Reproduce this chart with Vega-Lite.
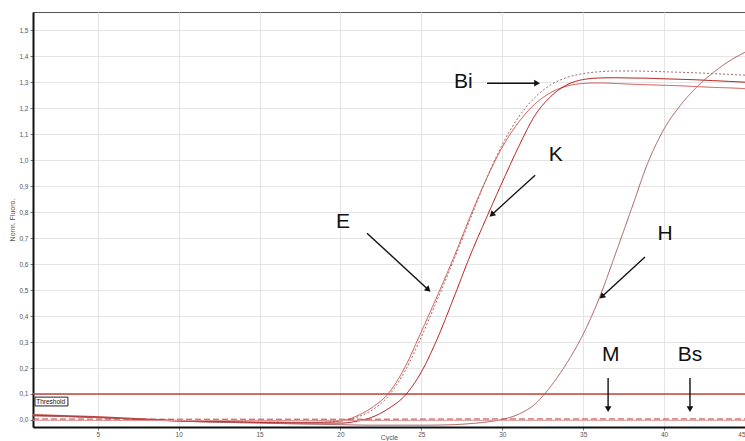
{
  "$schema": "https://vega.github.io/schema/vega-lite/v6.json",
  "width": 712,
  "height": 415,
  "autosize": "none",
  "padding": {"left": 33, "top": 12, "right": 0, "bottom": 14},
  "background": "white",
  "config": {
    "view": {"stroke": "#555", "strokeWidth": 1},
    "font": "Liberation Sans",
    "axis": {
      "gridColor": "#e4e4e4",
      "gridWidth": 1,
      "domainColor": "#111",
      "domainWidth": 2,
      "tickColor": "#777",
      "tickSize": 3,
      "labelFontSize": 6.5,
      "labelColor": "#555",
      "labelOverlap": false,
      "titleFontSize": 7,
      "titleFontWeight": "normal",
      "titleColor": "#555"
    }
  },
  "datasets": {
    "curves": [
      {"s": "E", "c": 1, "v": 0.021}, {"s": "E", "c": 2, "v": 0.019}, {"s": "E", "c": 3, "v": 0.017}, {"s": "E", "c": 4, "v": 0.015}, {"s": "E", "c": 5, "v": 0.013},
      {"s": "E", "c": 6, "v": 0.01}, {"s": "E", "c": 7, "v": 0.007}, {"s": "E", "c": 8, "v": 0.004}, {"s": "E", "c": 9, "v": 0.001}, {"s": "E", "c": 10, "v": -0.002},
      {"s": "E", "c": 11, "v": -0.004}, {"s": "E", "c": 12, "v": -0.005}, {"s": "E", "c": 13, "v": -0.006}, {"s": "E", "c": 14, "v": -0.007}, {"s": "E", "c": 15, "v": -0.008},
      {"s": "E", "c": 16, "v": -0.008}, {"s": "E", "c": 17, "v": -0.009}, {"s": "E", "c": 18, "v": -0.009}, {"s": "E", "c": 19, "v": -0.008}, {"s": "E", "c": 20, "v": -0.004},
      {"s": "E", "c": 21, "v": 0.015}, {"s": "E", "c": 22, "v": 0.05}, {"s": "E", "c": 23, "v": 0.105}, {"s": "E", "c": 24, "v": 0.205}, {"s": "E", "c": 25, "v": 0.34},
      {"s": "E", "c": 26, "v": 0.48}, {"s": "E", "c": 27, "v": 0.625}, {"s": "E", "c": 28, "v": 0.78}, {"s": "E", "c": 29, "v": 0.925}, {"s": "E", "c": 30, "v": 1.05},
      {"s": "E", "c": 31, "v": 1.145}, {"s": "E", "c": 32, "v": 1.215}, {"s": "E", "c": 33, "v": 1.26}, {"s": "E", "c": 34, "v": 1.285}, {"s": "E", "c": 35, "v": 1.295},
      {"s": "E", "c": 36, "v": 1.297}, {"s": "E", "c": 37, "v": 1.295}, {"s": "E", "c": 38, "v": 1.292}, {"s": "E", "c": 39, "v": 1.29}, {"s": "E", "c": 40, "v": 1.288},
      {"s": "E", "c": 41, "v": 1.286}, {"s": "E", "c": 42, "v": 1.283}, {"s": "E", "c": 43, "v": 1.28}, {"s": "E", "c": 44, "v": 1.278}, {"s": "E", "c": 45, "v": 1.275},

      {"s": "Bi", "c": 1, "v": 0.018}, {"s": "Bi", "c": 2, "v": 0.017}, {"s": "Bi", "c": 3, "v": 0.015}, {"s": "Bi", "c": 4, "v": 0.013}, {"s": "Bi", "c": 5, "v": 0.011},
      {"s": "Bi", "c": 6, "v": 0.008}, {"s": "Bi", "c": 7, "v": 0.005}, {"s": "Bi", "c": 8, "v": 0.002}, {"s": "Bi", "c": 9, "v": 0.0}, {"s": "Bi", "c": 10, "v": -0.003},
      {"s": "Bi", "c": 11, "v": -0.005}, {"s": "Bi", "c": 12, "v": -0.006}, {"s": "Bi", "c": 13, "v": -0.007}, {"s": "Bi", "c": 14, "v": -0.008}, {"s": "Bi", "c": 15, "v": -0.009},
      {"s": "Bi", "c": 16, "v": -0.009}, {"s": "Bi", "c": 17, "v": -0.01}, {"s": "Bi", "c": 18, "v": -0.01}, {"s": "Bi", "c": 19, "v": -0.009}, {"s": "Bi", "c": 20, "v": -0.005},
      {"s": "Bi", "c": 21, "v": 0.01}, {"s": "Bi", "c": 22, "v": 0.04}, {"s": "Bi", "c": 23, "v": 0.095}, {"s": "Bi", "c": 24, "v": 0.19}, {"s": "Bi", "c": 25, "v": 0.32},
      {"s": "Bi", "c": 26, "v": 0.465}, {"s": "Bi", "c": 27, "v": 0.615}, {"s": "Bi", "c": 28, "v": 0.77}, {"s": "Bi", "c": 29, "v": 0.925}, {"s": "Bi", "c": 30, "v": 1.06},
      {"s": "Bi", "c": 31, "v": 1.165}, {"s": "Bi", "c": 32, "v": 1.24}, {"s": "Bi", "c": 33, "v": 1.29}, {"s": "Bi", "c": 34, "v": 1.318}, {"s": "Bi", "c": 35, "v": 1.333},
      {"s": "Bi", "c": 36, "v": 1.34}, {"s": "Bi", "c": 37, "v": 1.343}, {"s": "Bi", "c": 38, "v": 1.343}, {"s": "Bi", "c": 39, "v": 1.342}, {"s": "Bi", "c": 40, "v": 1.34},
      {"s": "Bi", "c": 41, "v": 1.338}, {"s": "Bi", "c": 42, "v": 1.336}, {"s": "Bi", "c": 43, "v": 1.333}, {"s": "Bi", "c": 44, "v": 1.33}, {"s": "Bi", "c": 45, "v": 1.327},

      {"s": "K", "c": 1, "v": 0.017}, {"s": "K", "c": 2, "v": 0.016}, {"s": "K", "c": 3, "v": 0.014}, {"s": "K", "c": 4, "v": 0.012}, {"s": "K", "c": 5, "v": 0.01},
      {"s": "K", "c": 6, "v": 0.007}, {"s": "K", "c": 7, "v": 0.004}, {"s": "K", "c": 8, "v": 0.001}, {"s": "K", "c": 9, "v": -0.002}, {"s": "K", "c": 10, "v": -0.004},
      {"s": "K", "c": 11, "v": -0.006}, {"s": "K", "c": 12, "v": -0.007}, {"s": "K", "c": 13, "v": -0.008}, {"s": "K", "c": 14, "v": -0.009}, {"s": "K", "c": 15, "v": -0.01},
      {"s": "K", "c": 16, "v": -0.011}, {"s": "K", "c": 17, "v": -0.012}, {"s": "K", "c": 18, "v": -0.012}, {"s": "K", "c": 19, "v": -0.012}, {"s": "K", "c": 20, "v": -0.012},
      {"s": "K", "c": 21, "v": -0.005}, {"s": "K", "c": 22, "v": 0.012}, {"s": "K", "c": 23, "v": 0.045}, {"s": "K", "c": 24, "v": 0.095}, {"s": "K", "c": 25, "v": 0.185},
      {"s": "K", "c": 26, "v": 0.315}, {"s": "K", "c": 27, "v": 0.47}, {"s": "K", "c": 28, "v": 0.63}, {"s": "K", "c": 29, "v": 0.775}, {"s": "K", "c": 30, "v": 0.915},
      {"s": "K", "c": 31, "v": 1.05}, {"s": "K", "c": 32, "v": 1.17}, {"s": "K", "c": 33, "v": 1.245}, {"s": "K", "c": 34, "v": 1.29}, {"s": "K", "c": 35, "v": 1.31},
      {"s": "K", "c": 36, "v": 1.316}, {"s": "K", "c": 37, "v": 1.317}, {"s": "K", "c": 38, "v": 1.316}, {"s": "K", "c": 39, "v": 1.315}, {"s": "K", "c": 40, "v": 1.313},
      {"s": "K", "c": 41, "v": 1.311}, {"s": "K", "c": 42, "v": 1.309}, {"s": "K", "c": 43, "v": 1.306}, {"s": "K", "c": 44, "v": 1.303}, {"s": "K", "c": 45, "v": 1.3},

      {"s": "H", "c": 1, "v": 0.016}, {"s": "H", "c": 3, "v": 0.013}, {"s": "H", "c": 5, "v": 0.009}, {"s": "H", "c": 8, "v": 0.002}, {"s": "H", "c": 10, "v": -0.004},
      {"s": "H", "c": 12, "v": -0.008}, {"s": "H", "c": 15, "v": -0.012}, {"s": "H", "c": 18, "v": -0.016}, {"s": "H", "c": 20, "v": -0.018}, {"s": "H", "c": 22, "v": -0.02},
      {"s": "H", "c": 25, "v": -0.02}, {"s": "H", "c": 27, "v": -0.018}, {"s": "H", "c": 28, "v": -0.014}, {"s": "H", "c": 29, "v": -0.008}, {"s": "H", "c": 30, "v": 0.002},
      {"s": "H", "c": 31, "v": 0.022}, {"s": "H", "c": 32, "v": 0.06}, {"s": "H", "c": 33, "v": 0.13}, {"s": "H", "c": 34, "v": 0.22}, {"s": "H", "c": 35, "v": 0.33},
      {"s": "H", "c": 36, "v": 0.47}, {"s": "H", "c": 37, "v": 0.64}, {"s": "H", "c": 38, "v": 0.815}, {"s": "H", "c": 39, "v": 0.99}, {"s": "H", "c": 40, "v": 1.12},
      {"s": "H", "c": 41, "v": 1.21}, {"s": "H", "c": 42, "v": 1.28}, {"s": "H", "c": 43, "v": 1.335}, {"s": "H", "c": 44, "v": 1.38}, {"s": "H", "c": 45, "v": 1.415},

      {"s": "Bs", "c": 1, "v": -0.001}, {"s": "Bs", "c": 10, "v": -0.002}, {"s": "Bs", "c": 20, "v": -0.002}, {"s": "Bs", "c": 30, "v": -0.001}, {"s": "Bs", "c": 40, "v": -0.001}, {"s": "Bs", "c": 45, "v": -0.001},
      {"s": "M", "c": 1, "v": 0.004}, {"s": "M", "c": 10, "v": 0.003}, {"s": "M", "c": 20, "v": 0.003}, {"s": "M", "c": 30, "v": 0.004}, {"s": "M", "c": 40, "v": 0.004}, {"s": "M", "c": 45, "v": 0.004}
    ],
    "arrows": [
      {"label": "Bi", "x1": 29.06, "y1": 1.296, "x2": 32.2, "y2": 1.296, "hx": 32.15, "hy": 1.296, "tx": 27.6, "ty": 1.3},
      {"label": "K", "x1": 32.03, "y1": 0.942, "x2": 29.35, "y2": 0.79, "hx": 29.35, "hy": 0.79, "tx": 33.3, "ty": 1.02},
      {"label": "E", "x1": 21.64, "y1": 0.719, "x2": 25.43, "y2": 0.5015, "hx": 25.43, "hy": 0.5015, "tx": 20.16, "ty": 0.76},
      {"label": "H", "x1": 38.82, "y1": 0.627, "x2": 36.15, "y2": 0.4746, "hx": 36.15, "hy": 0.4746, "tx": 40.06, "ty": 0.715},
      {"label": "M", "x1": 36.54, "y1": 0.162, "x2": 36.54, "y2": 0.042, "hx": 36.54, "hy": 0.042, "tx": 36.7, "ty": 0.25},
      {"label": "Bs", "x1": 41.6, "y1": 0.162, "x2": 41.6, "y2": 0.042, "hx": 41.6, "hy": 0.042, "tx": 41.6, "ty": 0.25}
    ],
    "threshold": [
      {"v": 0.1, "label": "Threshold", "bx1": 1.12, "bx2": 3.16, "by1": 0.054, "by2": 0.088, "lx": 1.2, "ly": 0.071}
    ]
  },
  "layer": [
    {
      "data": {"name": "threshold"},
      "mark": {"type": "rule", "color": "#c8403c", "strokeWidth": 1.3},
      "encoding": {
        "y": {"field": "v", "type": "quantitative", "scale": {"domain": [-0.027, 1.57], "nice": false, "zero": false},
              "axis": {"values": [0, 0.1, 0.2, 0.3, 0.4, 0.5, 0.6, 0.7, 0.8, 0.9, 1.0, 1.1, 1.2, 1.3, 1.4, 1.5],
                       "tickCount": 20,
                       "labelExpr": "replace(format(datum.value, '.1f'), '.', ',')",
                       "labelOverlap": false,
                       "title": "Norm. Fluoro.", "titlePadding": 3, "labelPadding": 2}}
      }
    },
    {
      "data": {"name": "curves"},
      "mark": {"type": "line", "interpolate": "monotone", "clip": true},
      "encoding": {
        "x": {"field": "c", "type": "quantitative", "scale": {"domain": [1, 45], "nice": false, "zero": false},
              "axis": {"values": [5, 10, 15, 20, 25, 30, 35, 40, 45], "tickCount": 20, "title": "Cycle",
                       "titleY": 12, "titleBaseline": "alphabetic", "labelPadding": 1, "labelOverlap": false}},
        "y": {"field": "v", "type": "quantitative",
              "axis": {"values": [0, 0.1, 0.2, 0.3, 0.4, 0.5, 0.6, 0.7, 0.8, 0.9, 1.0, 1.1, 1.2, 1.3, 1.4, 1.5],
                       "tickCount": 20,
                       "labelExpr": "replace(format(datum.value, '.1f'), '.', ',')",
                       "labelOverlap": false,
                       "title": "Norm. Fluoro.", "titlePadding": 3, "labelPadding": 2}},
        "detail": {"field": "s"},
        "color": {"field": "s", "type": "nominal", "legend": null,
                  "scale": {"domain": ["H", "Bs", "M", "E", "Bi", "K"], "range": ["#a85a5a", "#e09090", "#b84444", "#d24a46", "#9a6a6a", "#b00c0c"]}},
        "strokeDash": {"field": "s", "type": "nominal", "legend": null,
                  "scale": {"domain": ["H", "Bs", "M", "E", "Bi", "K"], "range": [[1, 0], [1, 0], [6, 3], [1, 0], [2, 2], [1, 0]]}},
        "strokeWidth": {"field": "s", "type": "nominal", "legend": null,
                  "scale": {"domain": ["H", "Bs", "M", "E", "Bi", "K"], "range": [1, 1, 1.6, 1.1, 1, 2]}},
        "order": {"field": "c", "type": "quantitative"}
      }
    },
    {
      "data": {"name": "threshold"},
      "mark": {"type": "rect", "fill": "white", "stroke": "#222", "strokeWidth": 1},
      "encoding": {
        "x": {"field": "bx1", "type": "quantitative"},
        "x2": {"field": "bx2"},
        "y": {"field": "by1", "type": "quantitative"},
        "y2": {"field": "by2"}
      }
    },
    {
      "data": {"name": "threshold"},
      "mark": {"type": "text", "align": "left", "baseline": "middle", "fontSize": 6.5, "color": "#111"},
      "encoding": {
        "x": {"field": "lx", "type": "quantitative"},
        "y": {"field": "ly", "type": "quantitative"},
        "text": {"field": "label"}
      }
    },
    {
      "data": {"name": "arrows"},
      "mark": {"type": "rule", "color": "#111", "strokeWidth": 1.4},
      "encoding": {
        "x": {"field": "x1", "type": "quantitative"},
        "y": {"field": "y1", "type": "quantitative"},
        "x2": {"field": "x2"},
        "y2": {"field": "y2"}
      }
    },
    {
      "data": {"name": "arrows"},
      "mark": {"type": "point", "shape": "triangle-up", "filled": true, "color": "#111", "size": 45, "opacity": 1},
      "encoding": {
        "x": {"field": "hx", "type": "quantitative"},
        "y": {"field": "hy", "type": "quantitative"},
        "angle": {"field": "label", "type": "nominal", "legend": null,
                  "scale": {"type": "ordinal", "domain": ["Bi", "K", "E", "H", "M", "Bs"], "range": [90, 227.5, 132.7, 227.5, 180, 180]}}
      }
    },
    {
      "data": {"name": "arrows"},
      "mark": {"type": "text", "fontSize": 21, "font": "Liberation Sans", "color": "#111", "align": "center", "baseline": "middle"},
      "encoding": {
        "x": {"field": "tx", "type": "quantitative"},
        "y": {"field": "ty", "type": "quantitative"},
        "text": {"field": "label"}
      }
    }
  ]
}
